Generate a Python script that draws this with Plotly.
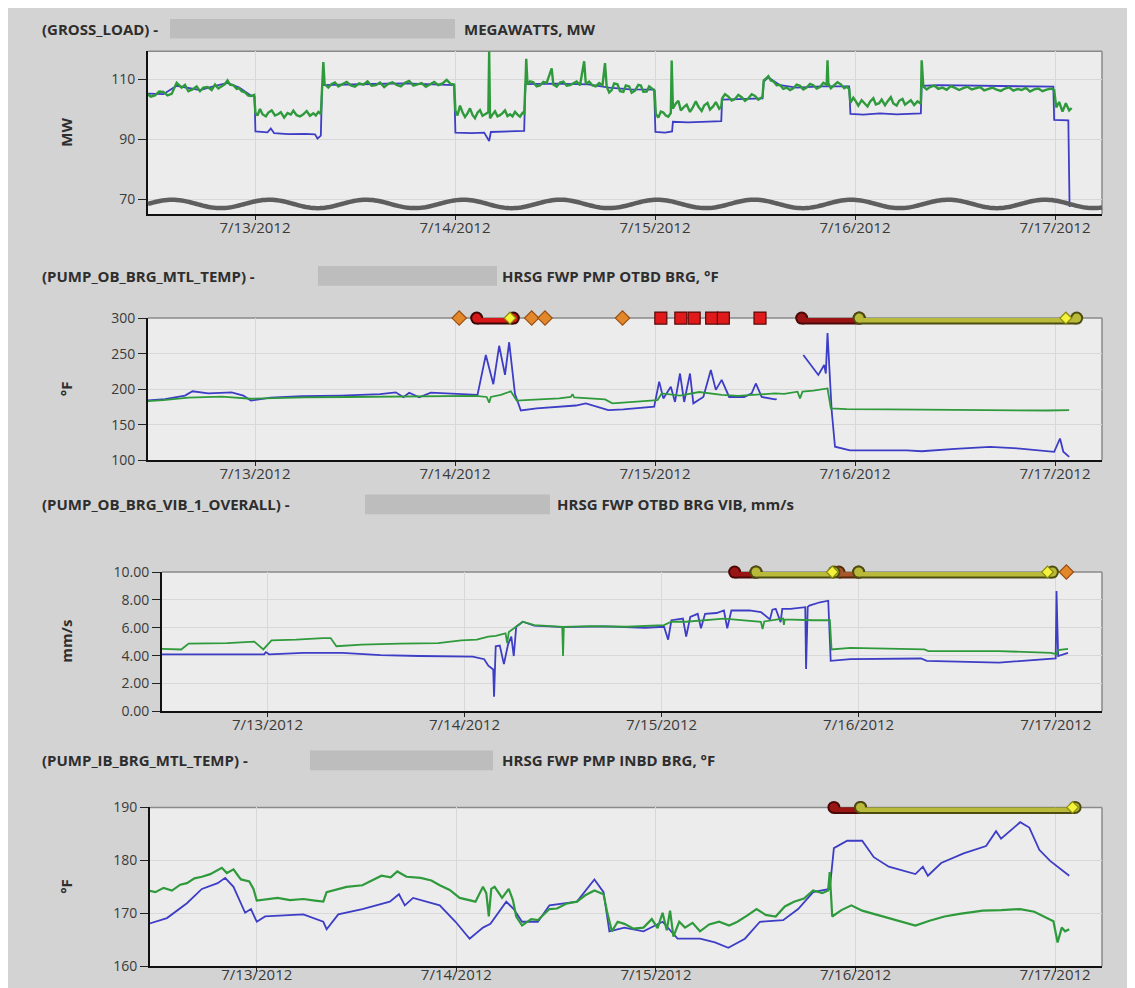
import numpy as np
import pandas as pd
import plotly.graph_objects as go

# The page keeps the browser's 8 px body margin, so the figure is drawn at (8, 8).
PAGE_W, PAGE_H, OFF = 1135, 988, 8
FW, FH = PAGE_W - 2 * OFF, PAGE_H - OFF
BASE = pd.Timestamp("2012-07-12")

# ---------------- data (hours after 7/12/2012 00:00, value) ----------------
load_blue = [(10.95,105.2),(13,105.0),(14.6,107.8),(16,107.2),(17.4,106.4),(19,107.6),(20.7,108.8),(22.1,107.2),
    (23.5,104.6),(23.95,104.2),(24.05,92.6),(25.5,92.3),(25.9,93.6),(26.3,92.0),(28,91.7),(30,91.8),(31.2,91.6),
    (31.5,90.2),(31.9,91.2),(32.05,108.0),(34,108.2),(38,108.4),(42,108.6),(46,108.3),(47.9,108.0),(48.05,92.2),
    (50,92.0),(51.5,92.2),(52.1,89.4),(52.3,92.4),(54,92.6),(56.3,92.8),(56.45,108.4),(60,108.5),(64,108.3),
    (66.5,107.2),(69,106.6),(71.9,106.5),(72.05,92.4),(73.2,92.2),(74.05,92.6),(74.15,95.8),(76,95.6),(78,95.7),
    (79.95,96.0),(80.05,103.2),(82,103.4),(84.9,103.6),(85.05,109.2),(85.6,110.6),(87,108.0),(89,107.2),(92,107.6),
    (95.3,107.6),(95.45,98.4),(97,98.2),(99,98.6),(101,98.3),(103.9,98.6),(104.0,107.8),(106,108.0),(110,107.8),
    (115,107.6),(119.8,107.5),(119.9,96.4),(121.6,96.3),(121.75,67.4)]

load_green = [(10.95,105.4),(11.5,104.2),(12,104.6),(12.5,105.9),(13,105.8),(13.5,104.6),(14,105.1),(14.6,108.8),
    (15.2,107.2),(15.6,108.1),(16.0,106.0),(16.5,106.6),(17.0,107.6),(17.4,106.0),(17.8,107.2),(18.3,107.4),
    (18.8,106.4),(19.2,108.2),(19.6,106.9),(20.0,107.6),(20.4,108.4),(20.7,109.6),(21.0,108.2),(21.4,108.0),
    (21.8,106.8),(22.1,107.0),(22.4,106.0),(22.8,105.6),(23.2,104.5),(23.5,104.4),(23.9,104.8),
    (24.05,98.8),(24.3,97.9),(24.6,100.1),(24.9,98.3),(25.3,97.6),(25.6,98.9),(26.0,99.6),(26.4,97.9),(26.8,98.4),
    (27.1,99.0),(27.5,97.2),(27.9,98.7),(28.3,98.2),(28.6,99.5),(29.0,98.0),(29.4,97.6),(29.8,98.3),(30.2,99.4),
    (30.6,97.8),(31.0,98.6),(31.3,97.9),(31.6,99.1),(31.9,98.4),
    (32.05,108.0),(32.2,115.7),(32.35,108.4),
    (32.8,107.2),(33.2,108.4),(33.6,108.9),(34,107.6),(34.5,108.3),(35,109.1),(35.5,107.9),(36,107.5),(36.5,108.6),
    (37,108.2),(37.5,109.3),(38,107.8),(38.5,108.0),(39,108.9),(39.5,107.4),(40,108.5),(40.5,109.0),(41,108.1),
    (41.5,107.6),(42,108.8),(42.5,109.4),(43,107.9),(43.5,108.3),(44,108.7),(44.5,107.5),(45,108.4),(45.5,109.1),
    (46,108.0),(46.5,108.6),(47,109.8),(47.5,108.4),(47.9,108.2),
    (48.05,99.5),(48.3,97.9),(48.6,101.2),(48.9,99.0),(49.2,97.4),(49.5,98.6),(49.8,100.3),(50.1,98.1),(50.4,97.0),
    (50.7,98.8),(51.0,99.7),(51.3,97.8),(51.6,98.4),(52.0,99.0),(52.1,119.3),
    (52.2,97.0),(52.5,98.2),(52.8,99.3),(53.1,97.6),(53.4,98.0),(53.7,98.7),(54.0,99.6),(54.3,97.7),(54.6,98.3),
    (54.9,97.6),(55.2,99.1),(55.5,98.2),(55.8,97.5),(56.1,98.8),(56.3,98.5),
    (56.45,108.5),(56.55,116.8),(56.7,108.2),(57.0,109.3),(57.4,109.0),(57.8,107.6),(58.2,107.9),(58.6,109.1),
    (59.0,108.8),(59.6,113.6),(59.8,108.2),(60.2,107.5),(60.6,108.9),(61.0,109.2),(61.4,107.8),(61.8,108.0),
    (62.2,108.6),(62.6,109.2),(63.0,108.0),(63.5,116.0),(63.7,108.4),(64.1,109.2),(64.5,107.9),(64.9,107.6),
    (65.3,108.7),(65.7,108.0),(66.0,115.4),(66.2,107.6),(66.5,105.6),(66.8,106.4),(67.1,108.6),(67.5,108.3),
    (67.8,106.0),(68.2,105.8),(68.5,107.9),(68.9,107.6),(69.2,105.5),(69.6,106.2),(70.0,108.1),(70.3,107.9),
    (70.6,105.8),(71.0,105.9),(71.3,107.6),(71.6,107.0),(71.95,106.2),
    (72.1,98.4),(72.4,97.2),(72.7,99.2),(73.0,98.9),(73.3,97.9),(73.6,97.5),(73.9,98.8),(74.0,116.2),
    (74.15,100.2),(74.5,101.9),(74.8,102.8),(75.1,99.6),(75.5,100.8),(75.8,101.5),(76.2,99.1),(76.5,100.4),
    (76.9,102.6),(77.2,100.9),(77.6,99.4),(77.9,101.2),(78.3,102.1),(78.6,99.9),(79.0,101.0),(79.3,102.4),
    (79.7,100.2),(79.95,100.9),
    (80.05,103.6),(80.4,105.0),(80.8,104.2),(81.2,102.9),(81.6,103.4),(82.0,104.8),(82.4,104.0),(82.8,102.8),
    (83.2,103.6),(83.6,105.0),(84.0,104.4),(84.4,103.2),(84.9,104.1),(85.05,109.6),(85.3,110.2),(85.6,111.0),
    (85.9,109.6),(86.2,109.3),(86.6,108.0),(87.0,108.1),(87.4,106.8),(87.8,107.2),(88.2,106.4),(88.6,107.0),
    (89.0,108.2),(89.4,107.8),(89.8,106.6),(90.2,107.2),(90.6,108.4),(91.0,108.0),(91.4,106.9),(91.8,107.4),
    (92.2,108.8),(92.6,108.2),(92.7,116.3),(92.8,108.6),(93.1,107.0),(93.5,107.9),(93.9,109.0),(94.3,108.3),
    (94.7,107.0),(95.0,107.5),(95.3,106.8),
    (95.45,102.2),(95.8,103.8),(96.1,102.6),(96.4,101.2),(96.8,103.0),(97.1,102.2),(97.5,100.9),(97.8,102.5),
    (98.2,103.7),(98.5,101.6),(98.9,102.0),(99.2,103.2),(99.6,101.3),(99.9,102.6),(100.3,104.0),(100.6,101.9),
    (101.0,101.2),(101.3,102.8),(101.7,103.4),(102.0,101.5),(102.4,102.2),(102.7,103.0),(103.1,101.4),
    (103.5,102.6),(103.9,101.8),
    (104.0,116.3),(104.2,107.6),
    (104.6,106.6),(105,107.4),(105.5,107.9),(106,106.8),(106.5,107.2),(107,106.5),(107.5,107.7),(108,107.1),
    (108.5,106.4),(109,107.0),(109.5,107.5),(110,106.6),(110.5,106.9),(111,107.4),(111.5,106.3),(112,106.8),
    (112.5,107.2),(113,106.5),(113.5,106.1),(114,106.9),(114.5,107.3),(115,106.2),(115.5,106.7),(116,106.4),
    (116.5,107.1),(117,105.9),(117.5,106.6),(118,106.9),(118.5,106.0),(119,106.5),(119.5,106.9),(119.9,106.4),
    (120.15,100.6),(120.5,102.4),(120.9,99.2),(121.3,102.0),(121.7,99.6),(122.0,100.4)]

obtemp_blue = [(10.95,184),(13.2,186),(15.6,191),(16.5,197),(18.4,194),(21.2,195.5),(22.6,191),(23.5,184),
    (25.9,188),(29.6,190),(34.3,191),(39,193),(40.9,195.5),(41.8,188.6),(42.5,195),(43.7,188.6),(45.1,195),
    (47.9,194),(50.3,193),(50.7,192),(51.7,248),(52.6,207),(53.3,261),(54.0,220),(54.5,266),(55.2,193),(55.9,170),
    (57.8,173),(62.5,177),(63.7,180),(66.4,170.6),(68.2,171.5),(71.9,175.3),(72.5,210.6),(73.0,187),(73.9,203.5),
    (74.4,182),(75.0,222),(75.5,182),(76.2,222),(76.6,180),(77.8,189),(78.7,227),(79.3,199),(80.0,213),(80.9,189),
    (82.7,189),(83.6,194),(84.1,208),(84.8,189),(86.4,185.6),(86.6,186),(88.0,None),(89.8,248),(91.6,220),
    (92.3,234),(92.5,222),(92.7,279),(93.2,170),(93.6,119),(95.4,114),(102.2,114),(104,112.7),(108,116),
    (112.2,118.8),(115.8,116.5),(119.9,111.8),(120.6,130.6),(121.0,112),(121.7,104.7)]

obtemp_green = [(10.95,183),(13,184.5),(16,188),(20,189.5),(23.5,186.5),(26,187.5),(30,188.5),(35,189),(40,189.5),
    (45,189),(48,190),(50.5,190.5),(51.8,189),(52.1,181),(52.3,189),(53.5,192),(54.7,197),(55.4,184),(57,185),
    (60.5,187),(61.9,189),(62.1,193),(62.3,188.5),(66.0,185.6),(66.9,180),(69.6,182.4),(72.3,184.7),(72.8,194),
    (75,191),(77.3,196),(80,192),(82,190.5),(84.5,193),(86.4,194),(87.5,193.5),(89.1,196.5),(89.4,187),(89.7,196.5),
    (91,198),(92.7,201),(93.1,173),(95,172),(100,171.5),(105,171),(110,171),(115,170.5),(119,170),(121.7,170.5)]

vib_blue = [(10.95,4.09),(23.6,4.09),(23.8,4.25),(24.2,4.09),(28.4,4.2),(33.1,4.2),(37.8,4.04),(42.5,3.97),(49,3.93),
    (50.4,3.74),(50.9,3.27),(51.5,3.0),(51.6,1.05),(51.8,4.67),(52.3,4.72),(52.8,3.39),(53.3,4.79),(53.7,5.37),
    (54.0,3.97),(54.3,6.07),(55.1,6.43),(56.5,6.15),(60,6.05),(65,6.1),(70,6.0),(72.3,6.07),(72.8,5.14),(73.2,6.54),
    (74.6,6.66),(75,5.37),(75.5,6.78),(76.4,7.0),(76.8,5.96),(77.3,7.0),(78.7,7.06),(79.6,7.24),(80,5.96),(80.5,7.24),
    (82.7,7.24),(84.1,7.13),(85.2,6.6),(85.5,7.3),(85.9,7.36),(86.5,6.4),(86.7,7.36),(87.7,7.36),(89.5,7.48),
    (89.6,3.04),(89.8,7.5),(90,7.59),(91.3,7.83),(92.3,7.94),(92.6,3.62),(95,3.74),(103.6,3.79),(104.3,3.62),
    (113.1,3.5),(119.4,3.74),(120.0,3.8),(120.1,8.64),(120.3,3.97),(121.5,4.2)]

vib_green = [(10.95,4.49),(13.5,4.44),(14.4,4.86),(19.1,4.9),(22.4,5.0),(23.5,4.44),(24.5,5.1),(27.5,5.14),
    (30.8,5.26),(31.7,5.26),(32.4,4.67),(35.5,4.79),(40.1,4.86),(44.8,4.9),(47.6,5.1),(49.5,5.14),(50.9,5.37),
    (51.8,5.42),(53.0,5.6),(53.2,4.9),(53.4,5.7),(54.2,6.07),(55.1,6.43),(56.5,6.19),(58.9,6.07),(59.9,6.07),
    (60.0,3.97),(60.1,6.07),(63.3,6.12),(67.8,6.07),(72.3,6.19),(73.2,6.43),(75,6.43),(79.6,6.66),(84.1,6.43),
    (84.3,5.9),(84.5,6.45),(86.8,6.66),(86.9,6.2),(87.0,6.6),(90.4,6.54),(92.5,6.54),(92.7,4.44),(95,4.56),
    (104,4.44),(104.5,4.32),(113.1,4.32),(119.4,4.2),(120.1,4.1),(120.3,4.4),(121.5,4.49)]

ibtemp_blue = [(10.95,168.0),(13.2,169.1),(15.6,171.9),(17.4,174.6),(19.3,175.7),(20.2,176.7),(21.2,175.0),
    (22.6,170.1),(23.3,170.8),(24.0,168.4),(25.0,169.4),(29.6,169.8),(32.0,168.4),(32.4,167.0),(33.8,169.8),
    (36.7,170.8),(40.0,172.2),(41.1,173.6),(41.8,171.5),(42.8,172.9),(46.0,171.5),(47.9,168.4),(49.6,165.2),
    (51.2,167.3),(52.1,168.0),(54.0,172.2),(54.9,170.8),(55.9,168.4),(57.8,168.4),(59.2,171.5),(62.5,172.2),
    (64.6,176.4),(65.7,174.0),(66.4,166.6),(68.2,167.3),(70.5,166.6),(72.8,168.4),(74.6,165.2),(77.3,165.2),
    (79.1,164.5),(80.7,163.5),(82.7,165.2),(84.5,168.4),(87.3,168.7),(89.1,170.8),(90.9,174.0),(92.9,174.6),
    (93.4,182.3),(95.0,183.7),(96.8,183.7),(98.2,180.6),(100.0,178.8),(103.2,177.4),(104.1,178.8),(104.7,177.1),
    (106.3,179.5),(109.0,181.3),(111.7,182.7),(112.9,185.5),(113.5,184.1),(115.8,187.2),(116.9,186.2),
    (118.1,182.0),(119.4,179.9),(121.7,177.1)]

ibtemp_green = [(10.95,174.3),(11.8,174.0),(12.8,174.8),(13.8,174.3),(14.8,175.4),(15.6,175.7),(16.5,176.6),
    (17.4,176.9),(18.4,177.4),(19.2,178.0),(19.8,178.6),(20.4,177.6),(21.2,178.3),(21.8,177.0),(22.1,176.4),
    (23.1,176.0),(23.6,174.6),(24.0,172.4),(25.0,172.6),(26.5,172.9),(28,172.5),(29.6,172.7),(31,172.4),(32,172.2),
    (32.4,174.0),(33.5,174.4),(34.8,175.0),(36.7,175.3),(38,176.3),(39,177.1),(40.1,176.8),(40.9,177.9),(42,176.9),
    (43.7,176.7),(45,176.2),(46,175.3),(47.2,174.4),(48.4,172.9),(50.3,172.2),(51.2,175.0),(51.6,173.8),
    (51.9,169.4),(52.2,174.6),(52.6,175.0),(53.5,172.9),(54.3,174.6),(54.8,172.5),(55.2,169.4),(55.9,167.7),
    (57.0,168.9),(57.8,168.7),(59.2,170.8),(60.1,170.9),(61.2,171.8),(62.5,172.2),(63.5,173.4),(64.6,174.3),
    (65.7,173.6),(66.1,170.5),(66.7,166.6),(67.4,168.4),(68.2,168.0),(69.3,167.1),(70.5,167.3),(71.5,168.9),
    (72.2,167.2),(72.8,170.1),(73.3,166.8),(73.7,170.5),(74.1,165.6),(74.8,168.4),(75.5,167.3),(76.4,168.2),
    (77.3,166.6),(78.4,167.9),(79.6,168.4),(80.8,167.7),(81.8,168.4),(83,169.6),(84.1,170.8),(85.2,169.7),
    (86.4,169.4),(87.5,171.3),(88.6,172.2),(89.8,172.8),(90.9,174.3),(92.0,173.8),(92.7,174.3),(92.9,177.8),
    (93.2,169.4),(94.3,170.6),(95.5,171.5),(96.8,170.5),(98.4,169.8),(100,169.1),(101.6,168.5),(103.2,167.7),
    (104.9,168.6),(106.7,169.4),(108.5,169.9),(111.3,170.5),(113.5,170.6),(115.8,170.8),(117.5,170.3),(119,169.1),
    (119.8,168.5),(120.3,164.5),(120.8,167.3),(121.2,166.6),(121.7,167.0)]

# event markers (hours)
p2_orange = [48.5, 57.2, 58.8, 68.1]
p2_red = [72.7, 75.1, 76.7, 78.8, 80.2, 84.6]
p2_redbar = [(50.6, 55.0)]
p2_yellow = [54.6, 121.3]
p2_darkbar = [(89.6, 96.5)]
p2_olivebar = [(96.5, 122.6)]

p3_darkbar = [(80.9, 83.5)]
p3_brownbar = [(93.6, 96.0)]
p3_olivebar = [(83.5, 93.0), (96.0, 119.6)]
p3_yellow = [92.8, 119.0]
p3_orange = [121.3]

p4_darkbar = [(93.4, 96.6)]
p4_olivebar = [(96.6, 122.4)]
p4_yellow = [122.1]

tick_days = ["2012-07-13", "2012-07-14", "2012-07-15", "2012-07-16", "2012-07-17"]
tick_text = ["7/13/2012", "7/14/2012", "7/15/2012", "7/16/2012", "7/17/2012"]
x_range_hours = [11.16, 125.64]

titles = [("(GROSS_LOAD) -", "MEGAWATTS, MW"),
          ("(PUMP_OB_BRG_MTL_TEMP) -", "HRSG FWP PMP OTBD BRG, °F"),
          ("(PUMP_OB_BRG_VIB_1_OVERALL) -", "HRSG FWP OTBD BRG VIB, mm/s"),
          ("(PUMP_IB_BRG_MTL_TEMP) -", "HRSG FWP PMP INBD BRG, °F")]
y_titles = ["MW", "°F", "mm/s", "°F"]
y_ticks = [[70, 90, 110], [100, 150, 200, 250, 300], [0, 2, 4, 6, 8, 10], [160, 170, 180, 190]]
y_ranges = [[65.0, 119.3], [100, 300], [0, 10], [160, 190]]

# ---------------- layout geometry (screen pixels of the 1135x988 page) ----------------
dom_px = [((148, 1102), (42, 208)), ((148, 1102), (314, 459)), ((162, 1102), (573, 715)), ((150, 1102), (813, 975))]
title_px = [(40, 462, 19, 170, 455), (40, 500, 271, 318, 497), (40, 555, 504, 365, 550), (40, 500, 765, 310, 493)]
label_standoff = [-5, -5, -5, -10]

BLUE = "#3d3dc6"
GREEN = "#2f9a3c"
PANEL = "#d3d3d3"
PLOTBG = "#ececec"
FONT = "Open Sans"

def px(sx):
    return (sx - OFF) / FW

def py(sy):
    return 1 - (sy - OFF) / FH

def tt(h):
    return BASE + pd.Timedelta(hours=h)

def split(pairs):
    return [tt(p[0]) for p in pairs], [p[1] for p in pairs]

fig = go.Figure()
layout = dict(width=FW, height=FH, margin=dict(l=0, r=0, t=0, b=0), paper_bgcolor=PANEL,
              plot_bgcolor=PLOTBG, showlegend=False)
shapes = []
annotations = []

for i in range(4):
    n = "" if i == 0 else str(i + 1)
    (x0, x1), (y0, y1) = dom_px[i]
    layout["xaxis" + n] = dict(domain=[px(x0), px(x1)], anchor="y" + n, type="date",
                               range=[tt(x_range_hours[0]), tt(x_range_hours[1])],
                               tickvals=tick_days, ticktext=tick_text, ticks="outside", ticklen=4,
                               ticklabelstandoff=label_standoff[i],
                               tickcolor="#222", showgrid=True, gridcolor="#d8d8d8", gridwidth=1,
                               showline=True, linecolor="#111", linewidth=2, zeroline=False,
                               tickfont=dict(family=FONT, size=15, color="#3a3a3a"), layer="below traces")
    yfmt = ".2f" if i == 2 else "d"
    layout["yaxis" + n] = dict(domain=[py(y1), py(y0)], anchor="x" + n, range=y_ranges[i],
                               tickvals=y_ticks[i], tickformat=yfmt, ticks="outside", ticklen=8,
                               tickcolor="#222", showgrid=True, gridcolor="#d8d8d8", gridwidth=1,
                               showline=True, linecolor="#111", linewidth=2, zeroline=False,
                               tickfont=dict(family=FONT, size=14, color="#3a3a3a"), layer="below traces")
    # top and right border
    shapes.append(dict(type="line", xref="x%s domain" % n, yref="y%s domain" % n, x0=0, x1=1, y0=1, y1=1,
                       line=dict(color="#8a8a8a", width=1.5), layer="below"))
    shapes.append(dict(type="line", xref="x%s domain" % n, yref="y%s domain" % n, x0=1, x1=1, y0=0, y1=1,
                       line=dict(color="#8a8a8a", width=1.5), layer="below"))
    # titles
    tx0, tx1, ty, bx0, bx1 = title_px[i]
    for tx, txt in ((tx0, titles[i][0]), (tx1, titles[i][1])):
        annotations.append(dict(xref="paper", yref="paper", x=px(tx), y=py(ty), text="<b>%s</b>" % txt,
                                showarrow=False, xanchor="left", yanchor="middle",
                                font=dict(family=FONT, size=15, color="#2e2e2e")))
    shapes.append(dict(type="rect", xref="paper", yref="paper", x0=px(bx0), x1=px(bx1),
                       y0=py(ty + 10), y1=py(ty - 10), fillcolor="#bdbdbd",
                       line=dict(width=0), layer="below"))
    # y-axis title
    annotations.append(dict(xref="paper", yref="paper", x=px(66), y=py((y0 + y1) / 2),
                            text="<b>%s</b>" % y_titles[i], textangle=-90, showarrow=False,
                            xanchor="center", yanchor="middle", font=dict(family=FONT, size=15, color="#2e2e2e")))

series = [(load_blue, load_green), (obtemp_blue, obtemp_green), (vib_blue, vib_green), (ibtemp_blue, ibtemp_green)]
for i, (b, g) in enumerate(series):
    n = "" if i == 0 else str(i + 1)
    for pairs, col in ((b, BLUE), (g, GREEN)):
        xs, ys = split(pairs)
        wdt = 1.8
        if col == GREEN and i == 0:
            wdt = 2.4
        elif col == GREEN and i == 3:
            wdt = 2.2
        fig.add_trace(go.Scatter(x=xs, y=ys, mode="lines", line=dict(color=col, width=wdt),
                                 xaxis="x" + n, yaxis="y" + n, connectgaps=False, hoverinfo="skip"))

# axis-break symbol on the load chart (decorative)
wx = np.linspace(0, 1, 400)
wy = 68.4 + 1.4 * np.sin(2 * np.pi * (wx * 954) / 97)
path = "M " + " L ".join("%.4f,%.3f" % (a, c) for a, c in zip(wx, wy))
shapes.append(dict(type="path", xref="x domain", yref="y", path=path, line=dict(color="#5e5e5e", width=4.5),
                   layer="above"))


def add_bar(n, top, spans, fill, edge):
    for a, b_ in spans:
        xs = [tt(a), tt(b_)]
        fig.add_trace(go.Scatter(x=xs, y=[top, top], mode="lines+markers", cliponaxis=False,
                                 line=dict(color=edge, width=13), marker=dict(size=13, color=edge),
                                 xaxis="x" + n, yaxis="y" + n, hoverinfo="skip"))
        fig.add_trace(go.Scatter(x=xs, y=[top, top], mode="lines+markers", cliponaxis=False,
                                 line=dict(color=fill, width=9), marker=dict(size=9, color=fill),
                                 xaxis="x" + n, yaxis="y" + n, hoverinfo="skip"))


def add_pts(n, top, hrs, sym, size, fill, edge):
    fig.add_trace(go.Scatter(x=[tt(h) for h in hrs], y=[top] * len(hrs), mode="markers", cliponaxis=False,
                             marker=dict(symbol=sym, size=size, color=fill, line=dict(color=edge, width=1.2)),
                             xaxis="x" + n, yaxis="y" + n, hoverinfo="skip"))

OLIVE, OLIVE_E = "#b9b93a", "#4d4d12"
DRED, DRED_E = "#9a1414", "#4a0808"
BROWN, BROWN_E = "#a8562a", "#55280c"
# chart 2 markers
add_bar("2", 300, p2_redbar, "#d81818", "#3a0606")
add_bar("2", 300, p2_darkbar, DRED, DRED_E)
add_bar("2", 300, p2_olivebar, OLIVE, OLIVE_E)
add_pts("2", 300, p2_red, "square", 12, "#e01a1a", "#5a0808")
add_pts("2", 300, p2_orange, "diamond", 11, "#e3882a", "#9a4e10")
add_pts("2", 300, p2_yellow, "diamond", 9, "#f4f23a", "#8a8a10")
# chart 3 markers
add_bar("3", 10, p3_darkbar, DRED, DRED_E)
add_bar("3", 10, p3_brownbar, BROWN, BROWN_E)
add_bar("3", 10, p3_olivebar, OLIVE, OLIVE_E)
add_pts("3", 10, p3_yellow, "diamond", 9, "#f4f23a", "#8a8a10")
add_pts("3", 10, p3_orange, "diamond", 11, "#e3882a", "#9a4e10")
# chart 4 markers
add_bar("4", 190, p4_darkbar, DRED, DRED_E)
add_bar("4", 190, p4_olivebar, OLIVE, OLIVE_E)
add_pts("4", 190, p4_yellow, "diamond", 9, "#f4f23a", "#8a8a10")

layout["shapes"] = shapes
layout["annotations"] = annotations
fig.update_layout(**layout)

fig.write_html("out.html", config={"displayModeBar": False})
